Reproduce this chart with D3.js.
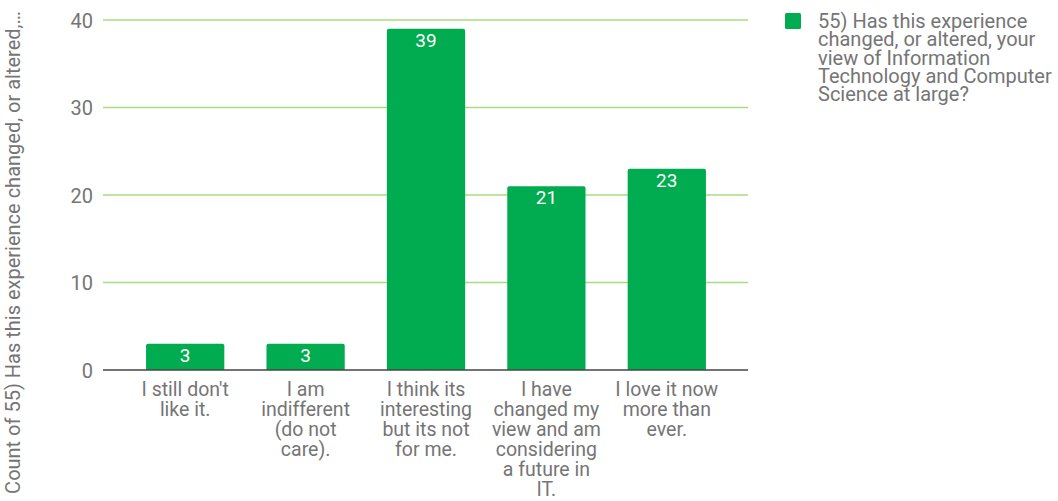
<!DOCTYPE html>
<html>
<head>
<meta charset="utf-8">
<script src="https://cdn.jsdelivr.net/npm/d3@7"></script>
<style>
  html, body { margin: 0; padding: 0; background: #fff; }
  #wrap { position: relative; width: 1058px; height: 501px; overflow: hidden; }
  svg { position: absolute; left: 0; top: 0; display: block; font-family: Roboto, "Noto Sans", sans-serif; }
  .lbl { position: absolute; font-family: Roboto, "Noto Sans", sans-serif; color: #757575; white-space: pre-line; }
  .cat { width: 130px; text-align: center; font-size: 19.5px; line-height: 20px; }
  .leg { text-align: left; font-size: 20px; line-height: 18.3px; width: 240px; }
</style>
</head>
<body>
<div id="wrap"><svg id="chart" width="1058" height="501"></svg></div>
<script>
// Answers to question 55 and how many respondents picked each one
const categories = [
  "I still don't like it.",
  "I am indifferent (do not care).",
  "I think its interesting but its not for me.",
  "I have changed my view and am considering a future in IT.",
  "I love it now more than ever."
];
// Wrapped category labels, one array per answer
const categoryLines = [
  ["I still don't", "like it."],
  ["I am", "indifferent", "(do not", "care)."],
  ["I think its", "interesting", "but its not", "for me."],
  ["I have", "changed my", "view and am", "considering", "a future in", "IT."],
  ["I love it now", "more than", "ever."]
];
const counts = [3, 3, 39, 21, 23];
const yTicks = [0, 10, 20, 30, 40];
const legendLines = ["55) Has this experience", "changed, or altered, your", "view of Information", "Technology and Computer", "Science at large?"];
const axisTitle = "Count of 55) Has this experience changed, or altered,…";

const svg = d3.select("#chart");
const wrap = d3.select("#wrap");
const barColor = "#00ac4f";
const gridColor = "#a9dc7f";
const textColor = "#757575";

const plotLeft = 103, plotRight = 748;
const y = d3.scaleLinear().domain([0, 40]).range([370, 20]);
const x = d3.scaleBand().domain(categories).range([125, 727]).paddingInner(0.35).paddingOuter(0.175);

// horizontal gridlines
svg.append("g").selectAll("line").data(yTicks.filter(t => t !== 0)).join("line")
  .attr("x1", plotLeft).attr("x2", plotRight)
  .attr("y1", d => y(d)).attr("y2", d => y(d))
  .attr("stroke", gridColor).attr("stroke-width", 1.3);

// y axis labels
const yAxis = d3.axisLeft(y).tickValues(yTicks).tickSize(0).tickPadding(0).tickFormat(d3.format("d"));
const yG = svg.append("g").attr("transform", `translate(${plotLeft - 10},0)`).call(yAxis);
yG.select(".domain").remove();
yG.selectAll("text").attr("fill", textColor).attr("font-size", 20).attr("font-family", "Roboto").attr("dy", "0.35em");

// bars with slightly rounded tops
const barG = svg.append("g");
counts.forEach((v, i) => {
  const x0 = x(categories[i]), w = x.bandwidth();
  const y0 = y(v), yb = y(0), r = 2;
  const p = d3.path();
  p.moveTo(x0, yb);
  p.lineTo(x0, y0 + r);
  p.quadraticCurveTo(x0, y0, x0 + r, y0);
  p.lineTo(x0 + w - r, y0);
  p.quadraticCurveTo(x0 + w, y0, x0 + w, y0 + r);
  p.lineTo(x0 + w, yb);
  p.closePath();
  barG.append("path").attr("d", p.toString()).attr("fill", barColor);
  barG.append("text")
    .attr("x", x0 + w / 2).attr("y", y0 + 18)
    .attr("text-anchor", "middle").attr("fill", "#fff")
    .attr("font-size", 19).attr("font-family", "Roboto")
    .text(v);
});

// zero baseline
svg.append("line").attr("x1", plotLeft).attr("x2", plotRight)
  .attr("y1", y(0)).attr("y2", y(0)).attr("stroke", "#444").attr("stroke-width", 1.3);

// category labels, wrapped as text blocks centred under each bar
categories.forEach((c, i) => {
  const cx = x(c) + x.bandwidth() / 2;
  wrap.append("div").attr("class", "lbl cat")
    .style("left", (cx - 65) + "px").style("top", "379.8px")
    .text(categoryLines[i].join("\n"));
});

// y axis title
svg.append("text")
  .attr("transform", "translate(20,252.5) rotate(-90)")
  .attr("text-anchor", "middle").attr("fill", textColor)
  .attr("font-size", 20).attr("font-family", "Roboto")
  .text(axisTitle);

// legend
svg.append("rect").attr("x", 785).attr("y", 13).attr("width", 16).attr("height", 16).attr("rx", 1.5).attr("fill", barColor);
wrap.append("div").attr("class", "lbl leg")
  .style("left", "818px").style("top", "12px")
  .text(legendLines.join("\n"));
</script>
</body>
</html>
